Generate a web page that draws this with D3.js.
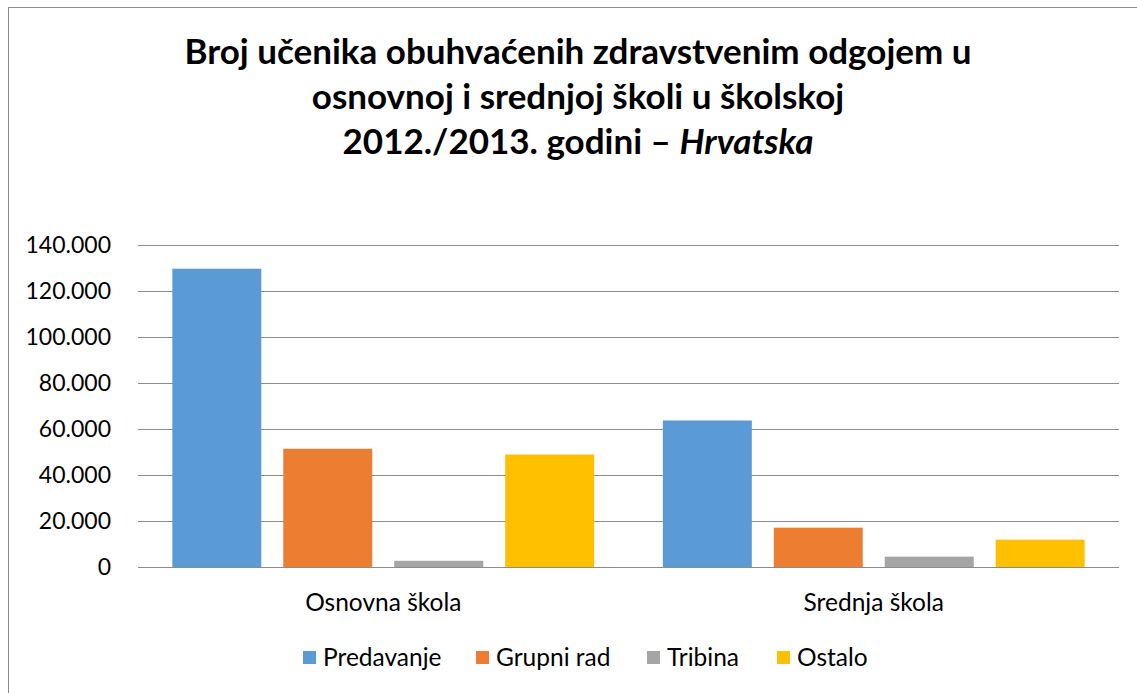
<!DOCTYPE html>
<meta charset="utf-8">
<script src="https://d3js.org/d3.v7.min.js"></script>
<style>
  body { margin: 0; background: #fff; }
  text { font-family: Lato, "Open Sans", sans-serif; fill: #000; }
</style>
<div id="chart"></div>
<script>

// categories and series
var categories = ["Osnovna škola", "Srednja škola"];
var seriesNames = ["Predavanje", "Grupni rad", "Tribina", "Ostalo"];
var predavanje = [129700, 63700];
var grupniRad = [51400, 17100];
var tribina = [2700, 4500];
var ostalo = [48900, 11900];
var yTicks = [0, 20000, 40000, 60000, 80000, 100000, 120000, 140000];
var colors = ["#5B9BD5", "#ED7D31", "#A5A5A5", "#FFC000"];

var seriesValues = [predavanje, grupniRad, tribina, ostalo];
var data = categories.map(function(c, i) {
  return { cat: c, values: seriesNames.map(function(s, j) { return { name: s, value: seriesValues[j][i] }; }) };
});

var W = 1137, H = 693;
var svg = d3.select("#chart").append("svg")
  .attr("width", W)
  .attr("height", H);

// outer chart border
svg.append("rect")
  .attr("x", 8.5).attr("y", 7.5)
  .attr("width", W + 20).attr("height", H + 20)
  .attr("fill", "none")
  .attr("stroke", "#8c8c8c");

// title
var title = svg.append("text")
  .attr("text-anchor", "middle")
  .style("font-weight", "bold")
  .style("font-size", "35px");
title.append("tspan").attr("x", 578).attr("y", 64).text("Broj učenika obuhvaćenih zdravstvenim odgojem u");
title.append("tspan").attr("x", 578).attr("y", 109).text("osnovnoj i srednjoj školi u školskoj");
title.append("tspan").attr("x", 578).attr("y", 154).text("2012./2013. godini – ");
title.append("tspan").style("font-style", "italic").text("Hrvatska");

// scales
var y = d3.scaleLinear().domain([0, 140000]).range([567, 245]);
var x0 = d3.scaleBand().domain(categories).range([138, 1119]).paddingInner(0.14).paddingOuter(0.07);
var x1 = d3.scaleBand().domain(seriesNames).range([0, x0.bandwidth()]).paddingInner(0.198);

// gridlines
svg.append("g")
  .selectAll("line")
  .data(yTicks)
  .enter().append("line")
    .attr("x1", 138).attr("x2", 1119)
    .attr("y1", function(d) { return Math.round(y(d)) + 0.5; })
    .attr("y2", function(d) { return Math.round(y(d)) + 0.5; })
    .attr("stroke", "#8c8c8c")
    .attr("stroke-width", 1.2);

// y axis labels
var fmt = function(d) { return d === 0 ? "0" : d3.format(",")(d).replace(/,/g, "."); };
svg.append("g")
  .selectAll("text")
  .data(yTicks)
  .enter().append("text")
    .attr("x", 111)
    .attr("y", function(d) { return y(d); })
    .attr("dy", "0.36em")
    .attr("text-anchor", "end")
    .style("font-size", "23px")
    .text(fmt);

// bars
var groups = svg.append("g")
  .selectAll("g")
  .data(data)
  .enter().append("g")
    .attr("transform", function(d) { return "translate(" + x0(d.cat) + ",0)"; });

groups.selectAll("rect")
  .data(function(d) { return d.values; })
  .enter().append("rect")
    .attr("x", function(d) { return x1(d.name); })
    .attr("y", function(d) { return y(d.value); })
    .attr("width", x1.bandwidth())
    .attr("height", function(d) { return y(0) - y(d.value); })
    .attr("fill", function(d, i) { return colors[i]; });

// category labels
svg.append("g")
  .selectAll("text")
  .data(categories)
  .enter().append("text")
    .attr("x", function(d) { return x0(d) + x0.bandwidth() / 2; })
    .attr("y", 611)
    .attr("text-anchor", "middle")
    .style("font-size", "24.5px")
    .text(function(d) { return d; });

// legend
var legendX = [303, 476, 647, 777];
var legend = svg.append("g")
  .selectAll("g")
  .data(seriesNames)
  .enter().append("g")
    .attr("transform", function(d, i) { return "translate(" + legendX[i] + ",651)"; });
legend.append("rect")
  .attr("width", 13).attr("height", 13)
  .attr("fill", function(d, i) { return colors[i]; });
legend.append("text")
  .attr("x", 20).attr("y", 15)
  .style("font-size", "24.5px")
  .text(function(d) { return d; });

</script>
